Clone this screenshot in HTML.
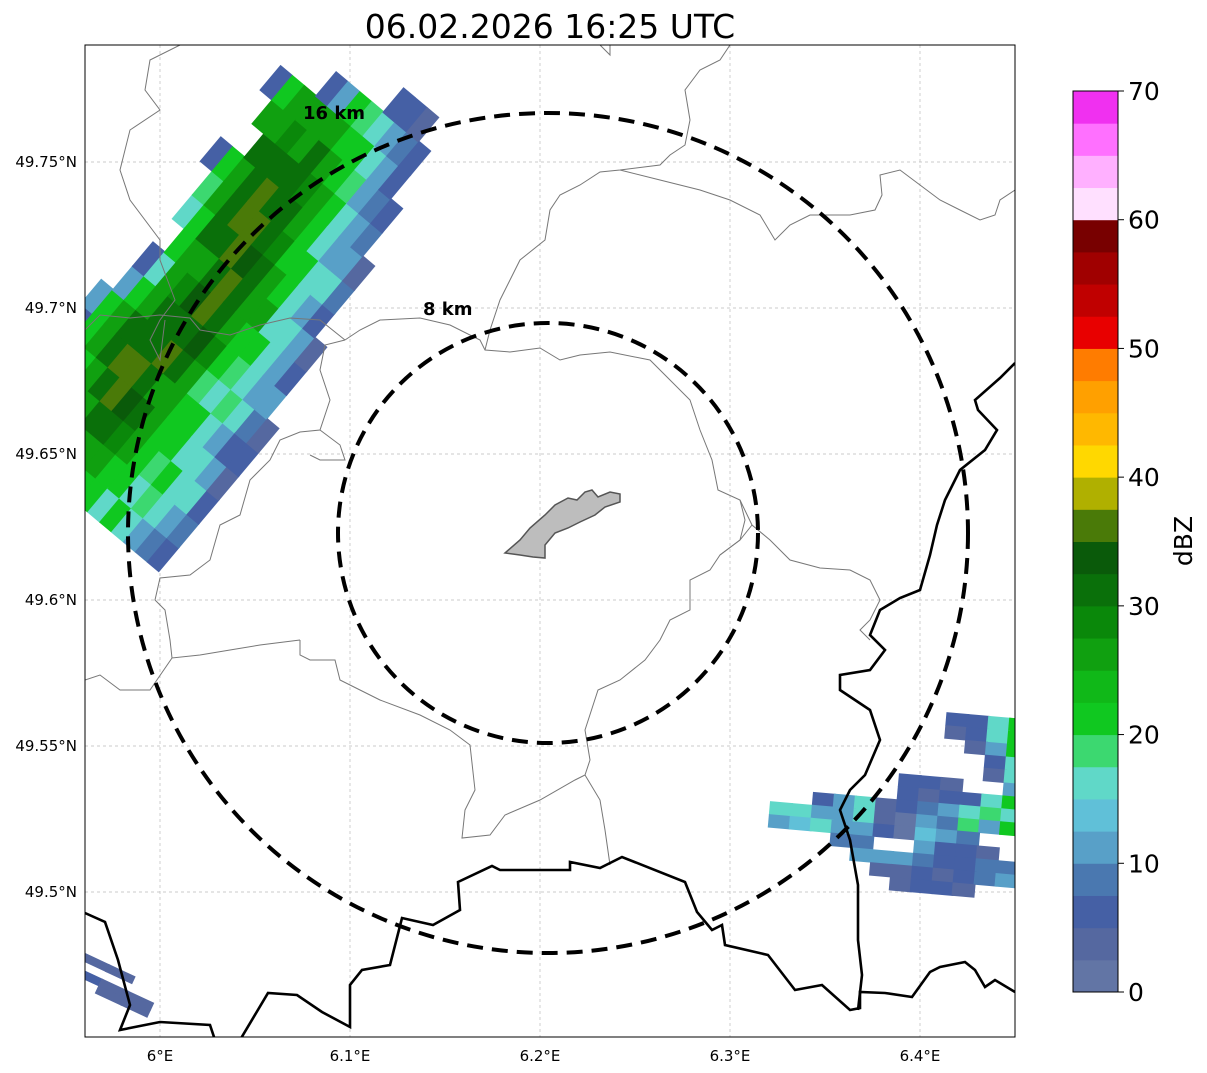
<!DOCTYPE html>
<html><head><meta charset="utf-8">
<style>
html,body{margin:0;padding:0;background:#fff;}
svg{display:block;font-family:"DejaVu Sans","Liberation Sans",sans-serif;}
</style></head>
<body>
<svg id="chart" width="1207" height="1073" viewBox="0 0 1207 1073">
<defs><clipPath id="ax"><rect x="85" y="45" width="930" height="992"/></clipPath></defs>
<text x="550" y="38" font-size="33" text-anchor="middle">06.02.2026 16:25 UTC</text>
<g id="grid"></g>
<g clip-path="url(#ax)">
 <g id="radar"></g>
 <g fill="none" stroke="#777" stroke-width="1">
  <path d="M180,45 L150,60 L145,90 L160,110 L130,130 L120,170 L130,200 L160,240 L160,260 L175,300 L160,320 L150,340 L160,360 L165,320"/>
  <path d="M85,330 L100,315 L130,318 L160,315 L190,318 L200,330 L230,335 L260,325 L290,318 L320,320 L345,340"/>
  <path d="M345,340 L325,345 L320,370 L330,400 L320,430 L300,432 L280,440 L270,460 L250,480 L240,515 L220,525 L210,560 L190,575 L160,578 L155,600 L165,610 L170,640 L172,658 L200,655 L230,650 L260,645 L300,640"/>
  <path d="M85,680 L100,675 L120,690 L150,690 L172,658"/>
  <path d="M300,640 L300,655 L310,660 L335,660 L340,680 L360,690 L380,700 L420,715 L450,730 L470,745 L475,790 L465,810 L462,838 L490,835 L505,815 L540,800 L575,780 L585,775 L590,760 L585,730 L598,690 L620,680 L645,660 L660,640 L670,620 L690,610 L690,580 L710,570 L720,555 L740,540 L752,525"/>
  <path d="M585,775 L600,800 L605,830 L610,865"/>
  <path d="M320,430 L340,445 L345,460 L320,460 L310,455"/>
  <path d="M345,340 L360,330 L380,320 L420,318 L450,325 L480,340 L485,350 L510,352 L540,348 L560,360 L580,355 L610,352 L650,360 L670,380 L690,400 L700,430 L712,460 L718,490 L740,500 L752,525 L770,540 L790,560 L820,568 L850,570 L870,580 L880,600 L870,620 L860,630 L870,640"/>
  <path d="M485,350 L490,330 L500,300 L510,280 L520,260 L545,240 L550,210 L560,195 L580,185 L600,172 L620,170 L660,165 L670,155 L685,145 L690,120 L685,90 L700,70 L720,60 L730,45"/>
  <path d="M600,45 L610,55 L610,45"/>
  <path d="M620,170 L660,180 L700,190 L730,200 L760,215 L775,240 L790,225 L810,215 L850,215 L875,210 L882,195 L880,175 L900,170 L920,185 L940,200 L960,210 L980,220 L995,215 L1000,200 L1015,190"/>
  <path d="M740,500 L745,520 L740,540 L720,555"/>
 </g>
 <g fill="none" stroke="#000" stroke-width="2.6">
  <path d="M85,913 L105,922 L118,960 L130,1005 L120,1030 L160,1022 L210,1025 L215,1040"/>
  <path d="M240,1040 L268,993 L297,995 L322,1012 L350,1027 L350,985 L362,970 L390,965 L402,918 L433,925 L460,910 L458,882 L492,866 L500,870 L570,870 L570,862 L600,868 L622,857 L685,882 L697,912 L712,930 L722,925 L725,945 L768,955 L795,990 L822,985 L850,1010 L860,1008 L860,992 L885,993 L912,997 L930,972 L940,967 L965,962 L975,970 L985,987 L995,980 L1015,992"/>
  <path d="M1015,363 L1000,378 L975,400 L978,410 L997,430 L985,450 L960,470 L945,500 L937,525 L930,555 L920,590 L900,598 L880,610 L870,635 L885,650 L870,670 L840,675 L840,690 L870,710 L880,740 L865,775 L850,790 L840,810 L850,840 L858,885 L858,940 L862,975 L858,1010"/>
 </g>
 <path d="M505,553 L520,540 L530,528 L545,515 L555,505 L568,498 L577,500 L585,492 L592,490 L598,497 L610,492 L620,494 L620,502 L605,507 L595,515 L580,522 L568,528 L555,533 L545,545 L545,558 L533,557 L520,555 Z" fill="#bdbdbd" stroke="#555" stroke-width="1.5"/>
 <circle cx="548" cy="533" r="210" fill="none" stroke="#000" stroke-width="4" stroke-dasharray="16,9"/>
 <circle cx="548" cy="533" r="420" fill="none" stroke="#000" stroke-width="4" stroke-dasharray="16,9"/>
 <text x="303" y="119" font-size="18" font-weight="bold">16 km</text>
 <text x="423" y="315" font-size="18" font-weight="bold">8 km</text>
</g>
<rect x="85" y="45" width="930" height="992" fill="none" stroke="#000" stroke-width="1"/>
<g id="ticks" font-size="15"></g>
<g id="cbar"></g>
<text x="0" y="0" font-size="25" text-anchor="middle" transform="translate(1192,541) rotate(-90)">dBZ</text>
<script>
const lonTicks=[6.0,6.1,6.2,6.3,6.4];
const lonLabels=["6°E","6.1°E","6.2°E","6.3°E","6.4°E"];
const latTicks=[49.75,49.7,49.65,49.6,49.55,49.5];
const latLabels=["49.75°N","49.7°N","49.65°N","49.6°N","49.55°N","49.5°N"];
const cbTicks=[0,10,20,30,40,50,60,70];
const cbColors=["#6275a5","#5568a0","#4560a5","#4a78b0","#58a0c8","#60c0d8","#60d8c8","#3cd870","#10c820","#10b818","#10a010","#0a880a","#0a700a","#0a5a0a","#4a7a08","#b0b000","#ffd800","#ffb800","#ffa000","#ff7c00","#e80000","#c00000","#a00000","#780000","#ffe0ff","#ffb0ff","#ff70ff","#f030f0"];
// NW band: rows of reflectivity (dBZ), -1 = no echo (row 0 = NW edge)
const nwRows=[
[-1,-1,-1,-1,-1,-1,-1,-1,-1,-1,-1,-1,-1,-1,-1,-1,-1,-1],
[-1,-1,-1,-1,5,12,-1,-1,-1,-1,-1,5,-1,-1,5,-1,-1,-1],
[-1,5,12,15,20,22,12,5,-1,15,18,20,-1,25,22,-1,-1,-1],
[8,15,20,22,25,27,20,17,20,22,25,27,30,27,25,-1,-1,-1],
[12,20,25,27,30,32,27,25,27,30,32,30,32,28,25,5,-1,-1],
[18,22,27,32,35,30,32,28,27,32,35,37,30,27,27,12,-1,-1],
[20,25,30,35,37,32,30,33,32,35,37,32,30,30,27,20,-1,-1],
[22,27,32,33,30,35,32,37,35,33,30,32,28,27,22,18,-1,-1],
[20,25,28,30,27,30,33,30,32,30,28,27,25,22,20,17,5,-1],
[22,22,25,27,25,27,28,25,27,25,22,20,22,18,17,12,5,-1],
[17,20,22,20,22,18,20,22,25,22,20,17,15,12,10,8,3,-1],
[20,17,18,22,20,17,18,20,17,15,17,12,10,8,5,5,-1,-1],
[15,18,20,17,15,18,15,17,15,12,15,10,8,5,-1,-1,-1,-1],
[12,15,17,15,12,15,12,10,12,5,8,3,-1,-1,-1,-1,-1,-1],
[8,12,15,10,5,8,10,5,3,-1,-1,-1,-1,-1,-1,-1,-1,-1],
[5,8,5,3,5,3,-1,-1,-1,-1,-1,-1,-1,-1,-1,-1,-1,-1]];
// SE cluster rows
const seRows=[
[-1,-1,-1,-1,-1,-1,-1,-1,5,5,15,22],
[-1,-1,-1,-1,-1,-1,-1,-1,3,5,15,20],
[-1,-1,-1,-1,-1,-1,-1,-1,-1,3,12,22],
[-1,-1,-1,-1,-1,-1,-1,-1,-1,-1,5,15],
[-1,-1,-1,-1,-1,-1,-1,-1,-1,-1,3,15],
[-1,-1,-1,-1,-1,-1,5,5,3,-1,-1,12],
[-1,-1,-1,-1,-1,-1,5,3,5,5,15,20],
[-1,-1,5,12,15,3,5,8,10,15,18,17],
[15,16,10,12,15,3,2,12,8,18,12,20],
[12,14,15,10,12,5,2,14,12,8,-1,-1],
[-1,-1,-1,8,8,-1,-1,12,5,5,4,-1],
[-1,-1,-1,-1,10,10,12,8,5,5,8,8],
[-1,-1,-1,-1,-1,4,3,5,3,5,8,10],
[-1,-1,-1,-1,-1,-1,3,5,5,3,-1,-1]];
const swRows=[[3,3,-1],[-1,-1,-1],[5,3,3],[-1,3,3]];

const NS="http://www.w3.org/2000/svg";
const xOf=lon=>160+(lon-6)*1900;
const yOf=lat=>600-(lat-49.6)*2920;
const cbY=v=>992-v*(901/70);
function mk(tag,attrs,parent){const e=document.createElementNS(NS,tag);for(const k in attrs)e.setAttribute(k,attrs[k]);parent.appendChild(e);return e;}
function colorFor(v){return cbColors[Math.min(cbColors.length-1,Math.floor(v/2.5))];}
const grid=document.getElementById('grid'),ticks=document.getElementById('ticks');
lonTicks.forEach((t,i)=>{const x=xOf(t);
 const l=mk('line',{x1:x,x2:x,y1:45,y2:1037,stroke:'#bbb','stroke-width':0.7,'stroke-dasharray':'3,3'},grid);
 
 
 const tx=mk('text',{x:x,y:1061,'text-anchor':'middle'},ticks);tx.textContent=lonLabels[i];
 
 });
latTicks.forEach((t,i)=>{const y=yOf(t);
 const l=mk('line',{x1:85,x2:1015,y1:y,y2:y,stroke:'#bbb','stroke-width':0.7,'stroke-dasharray':'3,3'},grid);
 
 
 const tx=mk('text',{x:77,y:y+5,'text-anchor':'end'},ticks);tx.textContent=latLabels[i];
 
 });
const radar=document.getElementById('radar');
function drawGrid(rows,ox,oy,ang,cw,ch){
 const c=Math.cos(ang*Math.PI/180),s=Math.sin(ang*Math.PI/180);
 rows.forEach((row,r)=>row.forEach((v,k)=>{if(v<0)return;
  const cx=ox+k*cw*c - r*ch*s, cy=oy+k*cw*s + r*ch*c;
  const e=mk('rect',{x:-cw/2-1,y:-ch/2,width:cw+2,height:ch+0.5,fill:colorFor(v),transform:`translate(${cx},${cy}) rotate(${ang})`},radar);
  
  }));
}
drawGrid(nwRows,-15,405,-50,31,15.5);
drawGrid(seRows,790,705,5,21,13);
drawGrid(swRows,95,962,25,28,8);
const cb=document.getElementById('cbar');
cbColors.forEach((col,i)=>{const e=mk('rect',{x:1073,y:cbY((i+1)*2.5),width:45,height:cbY(i*2.5)-cbY((i+1)*2.5)+0.5,fill:col},cb);
 
 });
mk('rect',{x:1073,y:cbY(70),width:45,height:cbY(0)-cbY(70),fill:'none',stroke:'#000','stroke-width':1},cb);
cbTicks.forEach(t=>{const y=cbY(t);mk('line',{x1:1118,x2:1124,y1:y,y2:y,stroke:'#000'},cb);
 const tx=mk('text',{x:1128,y:y+9,'font-size':25},cb);tx.textContent=t;
 
 });
</script>
</svg>
</body></html>
